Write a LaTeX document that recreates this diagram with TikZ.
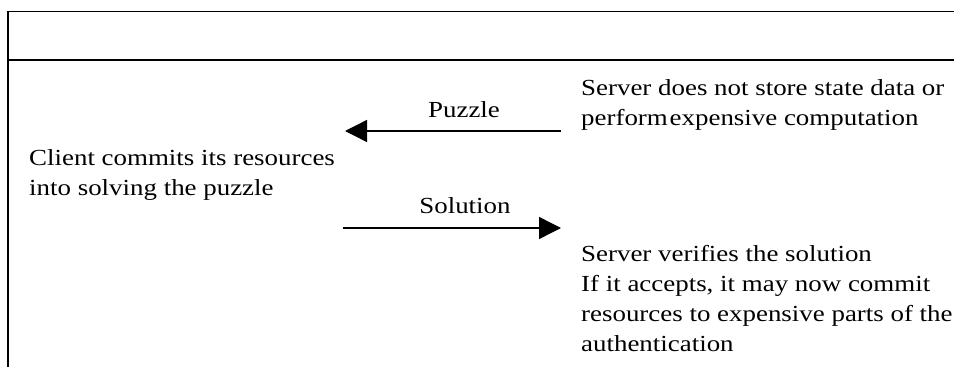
\documentclass[tikz,border=0pt]{standalone}
\usepackage{fontspec}
\setmainfont{Liberation Serif}[FakeStretch=1.17]
\usetikzlibrary{arrows.meta}
\begin{document}
\begin{tikzpicture}[x=1pt,y=-1pt,
  frame/.style={line width=1.8pt,black},
  arr/.style={line width=1.4pt,-{Triangle[length=22pt,width=22pt]}},
  txt/.style={inner sep=0pt,anchor=base west,align=left,font=\fontsize{23}{30}\selectfont},
  lbl/.style={inner sep=0pt,anchor=base,font=\fontsize{23}{30}\selectfont}]
\useasboundingbox (0,0) rectangle (954,367);
% frame
\coordinate (tl) at (8,11.5);
\coordinate (tr) at (960,11.5);
\coordinate (ml) at (8,60);
\coordinate (mr) at (960,60);
\coordinate (bl) at (8,370);
\draw[frame] (tr) -- (tl) -- (bl);
\draw[frame] (ml) -- (mr);
% arrows
\coordinate (pzs) at (561,131);
\coordinate (pze) at (345,131);
\coordinate (sls) at (343,228);
\coordinate (sle) at (561,228);
\draw[arr] (pzs) -- (pze);
\draw[arr] (sls) -- (sle);
\node[lbl] (puzzle) at (464,117) {Puzzle};
\node[lbl] (solution) at (465,213) {Solution};
% texts (base anchor = baseline of last line)
\node[txt] (client) at (29,195) {Client commits its resources\\into solving the puzzle};
\node[txt] (server1) at (581,125) {Server does not store state data or\\perform\hspace{0.08em}expensive computation};
\node[txt] (server2) at (581,351) {Server verifies the solution\\If it accepts, it may now commit\\resources to expensive parts of the\\authentication};
\end{tikzpicture}
\end{document}
